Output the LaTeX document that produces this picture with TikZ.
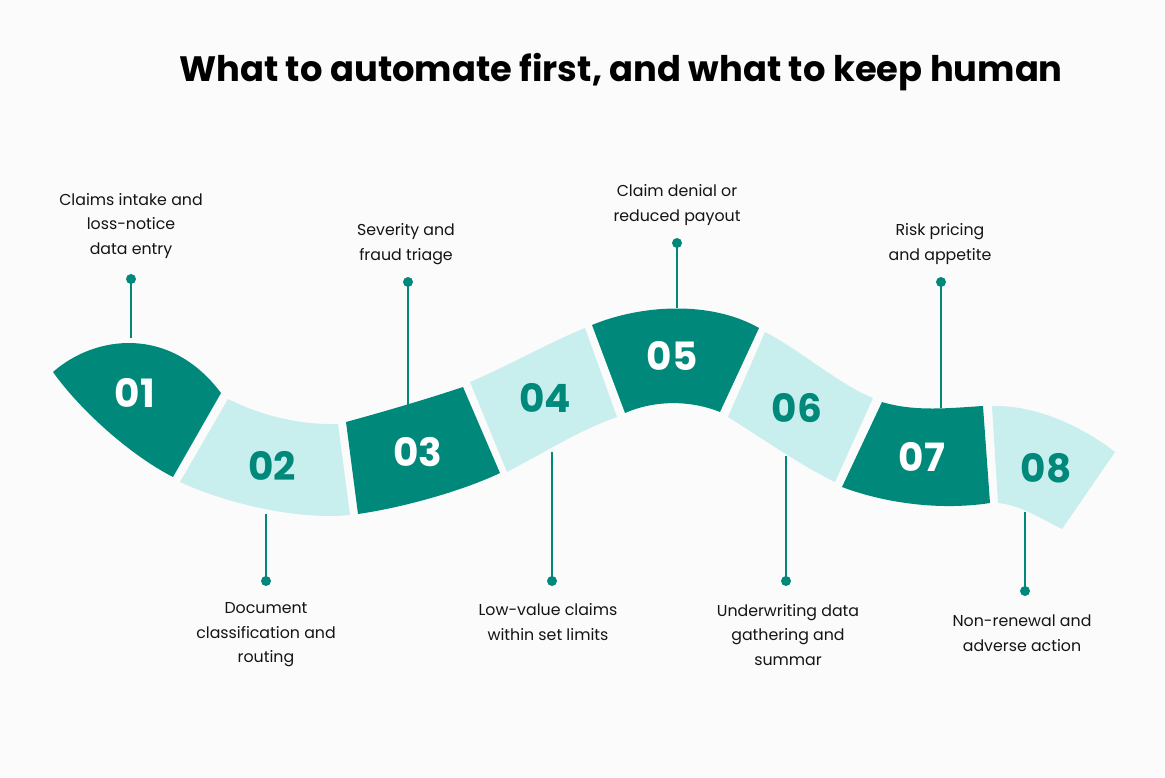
\documentclass[tikz,border=0pt]{standalone}
\usepackage{fontspec}
\setmainfont{Poppins}
\definecolor{teal1}{RGB}{0,137,123}
\definecolor{teal2}{RGB}{200,238,238}
\definecolor{ink}{RGB}{20,20,20}
\definecolor{bg}{RGB}{251,251,251}
\begin{document}
\begin{tikzpicture}[x=1pt,y=-1pt,
  dark/.style={fill=teal1,draw=none},
  light/.style={fill=teal2,draw=none},
  numdark/.style={text=white,font=\fontsize{39}{39}\selectfont\bfseries},
  numlight/.style={text=teal1,font=\fontsize{39}{39}\selectfont\bfseries},
  lbl/.style={text=ink,align=center,font=\fontsize{15.8}{24.5}\selectfont},
  dot/.style={circle,fill=teal1,inner sep=0pt,minimum size=10pt},
  conn/.style={draw=teal1,line width=1.8pt}]
\fill[bg] (0,0) rectangle (1165,777);
\useasboundingbox (0,0) rectangle (1165,777);

\node[font=\fontsize{35.3}{35.3}\selectfont\bfseries,text=black] (title) at (621,72) {What to automate first, and what to keep human};

% segments
\path[dark] (53,372) .. controls (95,335) and (170,325) .. (221,393) -- (173,477) .. controls (130,455) and (80,410) .. (53,372) -- cycle;
\path[light] (228,399) .. controls (262,416) and (300,425) .. (338,424) -- (350,515) .. controls (300,520) and (230,505) .. (180,482) -- cycle;
\path[dark] (346,422) .. controls (390,410) and (430,398) .. (463,387) -- (500,473) .. controls (460,492) and (400,508) .. (358,514) -- cycle;
\path[light] (470,382) .. controls (510,365) and (550,342) .. (585,328) -- (617,417) .. controls (580,430) and (545,452) .. (507,472) -- cycle;
\path[dark] (592,325) .. controls (640,305) and (710,300) .. (759,328) -- (720,412) .. controls (690,400) and (655,400) .. (625,413) -- cycle;
\path[light] (765,332) .. controls (800,350) and (840,385) .. (873,398) -- (835,482) .. controls (800,465) and (765,440) .. (728,417) -- cycle;
\path[dark] (882,402) .. controls (915,412) and (950,408) .. (983,406) -- (990,503) .. controls (945,510) and (890,505) .. (842,487) -- cycle;
\path[light] (992,406) .. controls (1035,405) and (1080,425) .. (1115,452) -- (1062,529) .. controls (1040,518) and (1020,505) .. (998,503) -- cycle;

% numbers
\node[numdark] (n1) at (135,393) {01};
\node[numlight] (n2) at (272,466) {02};
\node[numdark] (n3) at (418,452) {03};
\node[numlight] (n4) at (545,398) {04};
\node[numdark] (n5) at (672,356) {05};
\node[numlight] (n6) at (797,408) {06};
\node[numdark] (n7) at (922,457) {07};
\node[numlight] (n8) at (1046,468) {08};

% attachment points on the ribbon
\coordinate (a1) at (131,338);
\coordinate (a2) at (266,514);
\coordinate (a3) at (408,405);
\coordinate (a4) at (552,452);
\coordinate (a5) at (677,308);
\coordinate (a6) at (786,456);
\coordinate (a7) at (941,408);
\coordinate (a8) at (1025,512);

% dots
\node[dot] (d1) at (131,279) {};
\node[dot] (d2) at (266,581) {};
\node[dot] (d3) at (408,282) {};
\node[dot] (d4) at (552,581) {};
\node[dot] (d5) at (677,243) {};
\node[dot] (d6) at (786,581) {};
\node[dot] (d7) at (941,282) {};
\node[dot] (d8) at (1025,591) {};

\foreach \i in {1,...,8} {\draw[conn] (d\i.center) -- (a\i);}

% labels
\node[lbl] (l1) at (131,226) {Claims intake and\\loss-notice\\data entry};
\node[lbl] (l2) at (266,635) {Document\\classification and\\routing};
\node[lbl] (l3) at (406,244) {Severity and\\fraud triage};
\node[lbl] (l4) at (548,622) {Low-value claims\\within set limits};
\node[lbl] (l5) at (677,205) {Claim denial or\\reduced payout};
\node[lbl] (l6) at (788,635) {Underwriting data\\gathering and\\summar};
\node[lbl] (l7) at (940,244) {Risk pricing\\and appetite};
\node[lbl] (l8) at (1022,633) {Non-renewal and\\adverse action};
\end{tikzpicture}
\end{document}
